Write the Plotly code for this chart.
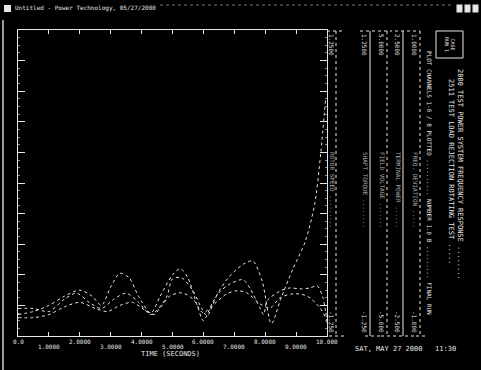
import plotly.graph_objects as go

# ---------------- data ----------------
tick_vals = [0, 1, 2, 3, 4, 5, 6, 7, 8, 9, 10]
tick_labels = ["0.0", "1.0000", "2.0000", "3.0000", "4.0000", "5.0000",
               "6.0000", "7.0000", "8.0000", "9.0000", "10.000"]

s1_x = [0.0, 0.5, 1.0, 1.5, 2.0, 2.4, 2.7, 3.0, 3.3, 3.6, 3.9, 4.3, 4.6, 5.0, 5.25,
        5.5, 5.8, 6.0, 6.3, 6.8, 7.3, 7.6, 7.9, 8.2, 8.5, 8.9, 9.3, 9.6, 9.8, 9.95]
s1_y = [0.7, 0.8, 1.0, 1.3, 1.5, 1.3, 1.0, 1.6, 2.05, 1.9, 1.3, 0.75, 1.3, 2.0, 2.2,
        1.9, 1.0, 0.5, 1.1, 1.9, 2.35, 2.45, 1.8, 0.4, 1.2, 2.2, 3.1, 4.3, 6.0, 7.7]

s2_x = [0.0, 0.5, 1.0, 1.5, 1.9, 2.3, 2.7, 3.1, 3.5, 3.9, 4.3, 4.8, 5.0, 5.3, 5.66,
        5.95, 6.12, 6.47, 6.86, 7.28, 7.5, 7.83, 7.95, 8.06, 8.48, 8.8, 9.13, 9.45,
        9.68, 9.87, 10.0]
s2_y = [0.9, 0.9, 0.8, 1.2, 1.4, 1.1, 0.9, 1.2, 1.4, 1.1, 0.7, 1.25, 1.87, 1.9, 1.48,
        0.89, 0.66, 1.38, 1.7, 1.84, 1.57, 0.92, 0.7, 1.15, 1.47, 1.57, 1.54, 1.57,
        1.64, 1.25, 0.43]

s3_x = [0.0, 0.5, 1.0, 1.5, 2.0, 2.5, 2.9, 3.3, 3.7, 4.1, 4.4, 4.6, 4.92, 5.31, 5.66,
        5.99, 6.21, 6.76, 7.09, 7.41, 7.83, 8.16, 8.48, 8.9, 9.35, 9.77, 10.0]
s3_y = [0.6, 0.6, 0.7, 0.95, 1.1, 0.9, 0.8, 1.0, 1.1, 0.85, 0.7, 0.92, 1.31, 1.41, 1.21,
        0.75, 0.92, 1.38, 1.48, 1.41, 1.05, 0.92, 1.25, 1.38, 1.31, 0.92, 0.5]

title_bar = "Untitled - Power Technology, 05/27/2000"
x_title = "TIME (SECONDS)"
stamp = "SAT, MAY 27 2000   11:30"
col_tops = ["1.2500", "1.2500", "5.0000", "2.5000", "1.0000"]
col_mids = ["ROTOR SPEED .........", "SHAFT TORQUE ........", "FIELD VOLTAGE .......",
            "TERMINAL POWER ......", "FREQ. DEVIATION ....."]
col_bots = ["-1.250", "-1.250", "-5.000", "-2.500", "-1.000"]
info_1 = "PLOT CHANNELS 1-6 / 8 PLOTTED .......... NUMBER 1.0 B ......... FINAL RUN"
info_2 = "2511 TEST LOAD REJECTION ROTATING TEST ....."
info_3 = "2000 TEST POWER SYSTEM FREQUENCY RESPONSE ........"
box_text = "CASE<br>RUN 1"

# ---------------- figure ----------------
W, H = 481, 370
L, R, T, B = 18, 327, 30, 336
FG = "#e6e6e6"
DIM = "#a8a8a8"
MONO = "DejaVu Sans Mono"

def px(p):
    return (p - L) / (R - L)

def py(p):
    return (B - p) / (B - T)

fig = go.Figure()
for xs, ys in [(s1_x, s1_y), (s2_x, s2_y), (s3_x, s3_y)]:
    fig.add_trace(go.Scatter(x=xs, y=ys, mode="lines", line=dict(color=FG, width=1, dash="dot"),
                             line_shape="spline", line_smoothing=0.8,
                             showlegend=False, hoverinfo="skip"))

fig.update_layout(
    width=W, height=H,
    margin=dict(l=L, r=W - R, t=T, b=H - B),
    paper_bgcolor="black", plot_bgcolor="black",
    font=dict(family=MONO, color=FG, size=7),
    xaxis=dict(range=[0, 10], tickvals=tick_vals, showticklabels=False, ticks="inside",
               ticklen=4, tickcolor=FG, showline=True, linecolor=FG, linewidth=1,
               mirror="ticks", showgrid=False, zeroline=False, fixedrange=True),
    yaxis=dict(range=[0, 10], dtick=1, showticklabels=False, ticks="inside",
               ticklen=7, tickcolor=FG, showline=True, linecolor=FG, linewidth=1,
               mirror="ticks", showgrid=False, zeroline=False, fixedrange=True,
               minor=dict(dtick=0.25, ticks="inside", ticklen=2, tickcolor="#888888")),
)

def note(x, y, text, size=6, color=FG, angle=0, xanchor="center", yanchor="middle", **kw):
    d = dict(x=x, y=y, xref="paper", yref="paper", text=text, showarrow=False,
             textangle=angle, xanchor=xanchor, yanchor=yanchor,
             font=dict(size=size, family=MONO, color=color))
    d.update(kw)
    return d

anns = []
for i, (v, lab) in enumerate(zip(tick_vals, tick_labels)):
    anns.append(dict(x=v, y=0, xref="x", yref="paper", text=lab, showarrow=False,
                     xanchor="center", yanchor="top", yshift=0 if i % 2 == 0 else -5,
                     font=dict(size=6, family=MONO, color=FG)))
anns.append(note(px(170), py(354), x_title, size=7))
anns.append(note(px(405), py(349), stamp, size=7))
anns.append(note(px(13), py(8), title_bar, size=6, xanchor="left"))

cols_x = [332, 365, 382, 398, 415]
for cx, t1, t2, t3 in zip(cols_x, col_tops, col_mids, col_bots):
    anns.append(note(px(cx), py(45), t1, angle=90))
    anns.append(note(px(cx), py(190), t2, angle=90, color=DIM))
    anns.append(note(px(cx), py(322), t3, angle=90))
anns.append(note(px(430), py(183), info_1, angle=90))
anns.append(note(px(451), py(172), info_2, size=7, angle=90))
anns.append(note(px(460), py(174), info_3, size=7, angle=90))
anns.append(note(px(449), py(44), box_text, size=5, angle=90))
fig.update_layout(annotations=anns)

shapes = []
for vx, dash in [(336, "dot"), (370, "solid"), (387, "dot"), (403, "solid"), (420, "dot")]:
    shapes.append(dict(type="line", xref="paper", yref="paper", x0=px(vx), x1=px(vx),
                       y0=py(31), y1=py(336), line=dict(color=FG, width=1, dash=dash)))
for a, b in [(329, 347), (365, 380), (381, 396), (399, 414), (416, 426)]:
    shapes.append(dict(type="line", xref="paper", yref="paper", x0=px(a), x1=px(b),
                       y0=py(336), y1=py(336), line=dict(color=FG, width=1, dash="dot")))
for a, b in [(327, 345), (360, 375), (378, 392), (395, 420)]:
    shapes.append(dict(type="line", xref="paper", yref="paper", x0=px(a), x1=px(b),
                       y0=py(31), y1=py(31), line=dict(color=FG, width=1, dash="dot")))
shapes.append(dict(type="rect", xref="paper", yref="paper", x0=px(436), x1=px(463),
                   y0=py(58), y1=py(31), line=dict(color=FG, width=1)))
shapes.append(dict(type="line", xref="paper", yref="paper", x0=px(3), x1=px(3),
                   y0=py(20), y1=py(370), line=dict(color="#cccccc", width=1.5)))
shapes.append(dict(type="rect", xref="paper", yref="paper", x0=px(4), x1=px(11),
                   y0=py(12), y1=py(5), fillcolor=FG, line=dict(width=0)))
for a in [456, 464, 472]:
    shapes.append(dict(type="rect", xref="paper", yref="paper", x0=px(a), x1=px(a + 7),
                       y0=py(13), y1=py(4), fillcolor=FG, line=dict(color="black", width=1)))
shapes.append(dict(type="line", xref="paper", yref="paper", x0=px(160), x1=px(452),
                   y0=py(5), y1=py(5), line=dict(color="#777777", width=1, dash="dot")))
fig.update_layout(shapes=shapes)

fig.write_html("out.html", config={"displayModeBar": False},
               post_script="document.body.style.margin='0';"
                           "document.body.style.background='black';"
                           "document.documentElement.style.background='black';")
